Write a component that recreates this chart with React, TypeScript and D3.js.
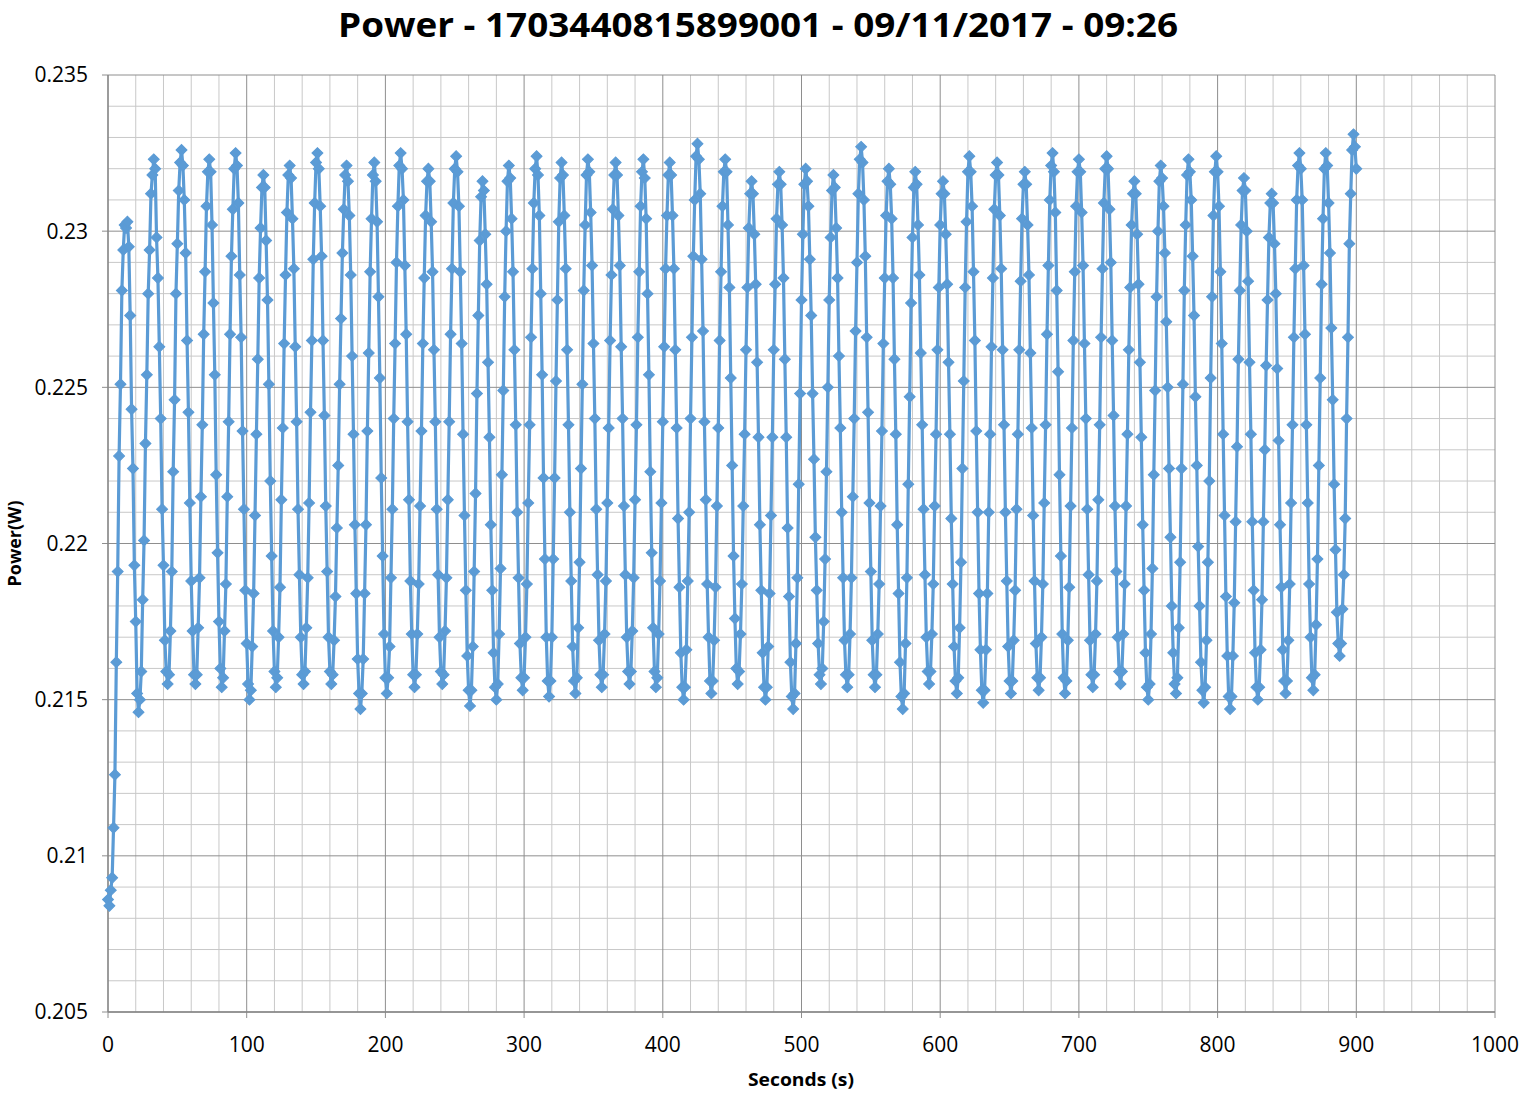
import React from "react";
import * as d3 from "d3";

const TITLE = "Power - 1703440815899001 - 09/11/2017 - 09:26";
const X_TITLE = "Seconds (s)";
const Y_TITLE = "Power(W)";

const xTicks = [0, 100, 200, 300, 400, 500, 600, 700, 800, 900, 1000];
const xTickLabels = ["0", "100", "200", "300", "400", "500", "600", "700", "800", "900", "1000"];
const yTicks = [0.205, 0.21, 0.215, 0.22, 0.225, 0.23, 0.235];
const yTickLabels = ["0.205", "0.21", "0.215", "0.22", "0.225", "0.23", "0.235"];

// sampling: one reading per second starting at 0 s
const startSecond = 0;
const stepSeconds = 1;

// power readings in milliwatts
const powerMilliwatts = [
  208.6, 208.4, 208.9, 209.3, 210.9, 212.6, 216.2, 219.1, 222.8, 225.1, 228.1, 229.4, 230.2, 230.1, 230.3,
  229.5, 227.3, 224.3, 222.4, 219.3, 217.5, 215.2, 214.6,
  215.0, 215.9, 218.2, 220.1, 223.2, 225.4, 228.0, 229.4, 231.2, 231.8, 232.3,
  232.0, 229.8, 228.5, 226.3, 224.0, 221.1, 219.3, 216.9, 215.9, 215.5,
  215.8, 217.2, 219.1, 222.3, 224.6, 228.0, 229.6, 231.3, 232.2, 232.6,
  232.1, 231.0, 229.3, 226.5, 224.2, 221.3, 218.8, 217.2, 215.8, 215.5,
  215.8, 217.3, 218.9, 221.5, 223.8, 226.7, 228.7, 230.8, 231.9, 232.3,
  231.9, 230.2, 227.7, 225.4, 222.2, 219.7, 217.5, 216.0, 215.4,
  215.7, 217.2, 218.7, 221.5, 223.9, 226.7, 229.2, 230.7, 232.0, 232.5,
  232.1, 230.9, 228.6, 226.6, 223.6, 221.1, 218.5, 216.8, 215.5, 215.0,
  215.3, 216.7, 218.4, 220.9, 223.5, 225.9, 228.5, 230.1, 231.4, 231.8,
  231.4, 229.7, 227.8, 225.1, 222.0, 219.6, 217.2, 215.9, 215.4,
  215.7, 217.0, 218.6, 221.4, 223.7, 226.4, 228.6, 230.6, 231.8, 232.1,
  231.7, 230.4, 228.8, 226.3, 223.9, 221.1, 219.0, 217.0, 215.8, 215.5,
  215.9, 217.3, 218.9, 221.3, 224.2, 226.5, 229.1, 230.9, 232.2, 232.5,
  232.0, 230.8, 229.2, 226.5, 224.1, 221.2, 219.1, 217.0, 215.9, 215.5,
  215.8, 216.9, 218.3, 220.5, 222.5, 225.1, 227.2, 229.3, 230.7, 231.8, 232.1,
  231.6, 230.5, 228.6, 226.0, 223.5, 220.6, 218.4, 216.3, 215.2, 214.7,
  215.2, 216.3, 218.4, 220.6, 223.6, 226.1, 228.7, 230.4, 231.8, 232.2,
  231.6, 230.3, 227.9, 225.3, 222.1, 219.6, 217.1, 215.7, 215.2,
  215.7, 216.7, 218.9, 221.1, 224.0, 226.4, 229.0, 230.8, 232.1, 232.5,
  232.0, 231.0, 228.9, 226.7, 223.9, 221.4, 218.8, 217.1, 215.8, 215.4,
  215.8, 217.1, 218.7, 221.2, 223.6, 226.4, 228.5, 230.5, 231.6, 232.0,
  231.6, 230.3, 228.7, 226.2, 223.9, 221.1, 219.0, 217.0, 215.9, 215.5,
  215.8, 217.2, 218.9, 221.4, 223.9, 226.7, 228.8, 230.9, 232.0, 232.4,
  231.9, 230.8, 228.7, 226.4, 223.5, 220.9, 218.5, 216.4, 215.3, 214.8,
  215.3, 216.7, 219.1, 221.6, 224.8, 227.3, 229.7, 231.1, 231.6,
  231.3, 229.9, 228.3, 225.8, 223.4, 220.6, 218.5, 216.5, 215.4, 215.0,
  215.5, 217.1, 219.2, 222.2, 224.9, 227.9, 230.0, 231.6, 232.1,
  231.7, 230.4, 228.7, 226.2, 223.8, 221.0, 218.9, 216.8, 215.7, 215.3,
  215.7, 217.0, 218.7, 221.3, 223.8, 226.6, 228.8, 230.9, 232.0, 232.4,
  231.8, 230.5, 228.0, 225.4, 222.1, 219.5, 217.0, 215.6, 215.1,
  215.6, 217.0, 219.5, 222.1, 225.2, 227.8, 230.3, 231.7, 232.2,
  231.8, 230.5, 228.8, 226.2, 223.8, 221.0, 218.8, 216.7, 215.6, 215.2,
  215.7, 217.3, 219.4, 222.4, 225.1, 228.1, 230.2, 231.8, 232.3,
  231.9, 230.6, 228.9, 226.4, 224.0, 221.1, 219.0, 216.9, 215.8, 215.4,
  215.8, 217.1, 218.8, 221.3, 223.7, 226.5, 228.6, 230.7, 231.8, 232.2,
  231.8, 230.5, 228.9, 226.3, 224.0, 221.2, 219.0, 217.0, 215.9, 215.5,
  215.9, 217.2, 218.9, 221.4, 223.8, 226.6, 228.7, 230.8, 231.9, 232.3,
  231.7, 230.4, 228.0, 225.4, 222.3, 219.7, 217.3, 215.9, 215.4,
  215.7, 217.1, 218.8, 221.3, 223.9, 226.3, 228.8, 230.5, 231.8, 232.2,
  231.8, 230.5, 228.8, 226.2, 223.7, 220.8, 218.6, 216.5, 215.4, 215.0,
  215.4, 216.6, 218.8, 221.0, 224.0, 226.6, 229.2, 231.0, 232.4, 232.8,
  232.3, 231.2, 229.1, 226.8, 223.9, 221.4, 218.7, 217.0, 215.6, 215.2,
  215.6, 216.9, 218.6, 221.2, 223.7, 226.5, 228.7, 230.8, 231.9, 232.3,
  231.9, 230.2, 228.2, 225.3, 222.5, 219.6, 217.6, 216.0, 215.5,
  215.9, 217.1, 218.7, 221.2, 223.5, 226.2, 228.2, 230.1, 231.2, 231.6,
  231.2, 229.9, 228.3, 225.8, 223.4, 220.6, 218.5, 216.5, 215.4, 215.0,
  215.4, 216.7, 218.4, 220.9, 223.4, 226.2, 228.3, 230.4, 231.5, 231.9,
  231.5, 230.2, 228.5, 225.9, 223.4, 220.5, 218.3, 216.2, 215.1, 214.7,
  215.2, 216.8, 218.9, 221.9, 224.8, 227.8, 229.9, 231.5, 232.0,
  231.6, 230.8, 229.1, 227.3, 224.8, 222.7, 220.2, 218.5, 216.8, 215.8, 215.5,
  216.0, 217.5, 219.5, 222.3, 225.0, 227.8, 229.8, 231.3, 231.8,
  231.4, 230.1, 228.5, 226.0, 223.7, 221.0, 218.9, 216.9, 215.8, 215.4,
  215.8, 217.1, 218.9, 221.5, 224.0, 226.8, 229.0, 231.2, 232.3, 232.7,
  232.2, 231.0, 229.2, 226.6, 224.2, 221.3, 219.1, 216.9, 215.8, 215.4,
  215.8, 217.1, 218.7, 221.2, 223.6, 226.4, 228.5, 230.5, 231.6, 232.0,
  231.5, 230.4, 228.5, 225.9, 223.5, 220.6, 218.4, 216.2, 215.1, 214.7,
  215.2, 216.8, 218.9, 221.9, 224.7, 227.7, 229.8, 231.4, 231.9,
  231.5, 230.2, 228.6, 226.1, 223.8, 221.1, 219.0, 217.0, 215.9, 215.5,
  215.9, 217.1, 218.7, 221.2, 223.5, 226.2, 228.2, 230.2, 231.2, 231.6,
  231.2, 229.9, 228.3, 225.8, 223.5, 220.8, 218.7, 216.7, 215.6, 215.2,
  215.7, 217.3, 219.4, 222.4, 225.2, 228.2, 230.3, 231.9, 232.4,
  231.9, 230.8, 228.7, 226.5, 223.6, 221.0, 218.4, 216.6, 215.3, 214.9,
  215.3, 216.6, 218.4, 221.0, 223.5, 226.3, 228.5, 230.7, 231.8, 232.2,
  231.8, 230.5, 228.8, 226.2, 223.8, 221.0, 218.8, 216.7, 215.6, 215.2,
  215.6, 216.9, 218.5, 221.1, 223.5, 226.2, 228.4, 230.4, 231.5, 231.9,
  231.5, 230.2, 228.6, 226.1, 223.7, 220.9, 218.8, 216.8, 215.7, 215.3,
  215.7, 217.0, 218.7, 221.3, 223.8, 226.7, 228.9, 231.0, 232.1, 232.5,
  231.9, 230.6, 228.1, 225.5, 222.2, 219.6, 217.1, 215.7, 215.2,
  215.6, 216.9, 218.6, 221.2, 223.7, 226.5, 228.7, 230.8, 231.9, 232.3,
  231.9, 230.6, 228.9, 226.4, 224.0, 221.1, 219.0, 216.9, 215.8, 215.4,
  215.8, 217.1, 218.8, 221.4, 223.8, 226.6, 228.8, 230.9, 232.0, 232.4,
  232.0, 230.7, 229.0, 226.5, 224.1, 221.2, 219.1, 217.0, 215.9, 215.5,
  215.9, 217.1, 218.7, 221.2, 223.5, 226.2, 228.2, 230.2, 231.2, 231.6,
  231.2, 229.9, 228.3, 225.8, 223.4, 220.6, 218.5, 216.5, 215.4, 215.0,
  215.5, 217.1, 219.2, 222.2, 224.9, 227.9, 230.0, 231.6, 232.1,
  231.7, 230.8, 229.3, 227.1, 225.0, 222.4, 220.2, 218.0, 216.5, 215.5, 215.2,
  215.7, 217.3, 219.4, 222.4, 225.1, 228.1, 230.2, 231.8, 232.3,
  231.9, 231.0, 229.2, 227.3, 224.7, 222.5, 219.9, 218.0, 216.2, 215.3, 214.9,
  215.4, 216.9, 219.4, 222.0, 225.3, 227.9, 230.5, 231.9, 232.4,
  231.9, 230.8, 228.7, 226.4, 223.5, 220.9, 218.3, 216.4, 215.1, 214.7,
  215.1, 216.4, 218.1, 220.7, 223.1, 225.9, 228.1, 230.2, 231.3, 231.7,
  231.3, 230.0, 228.4, 225.8, 223.5, 220.7, 218.5, 216.5, 215.4, 215.0,
  215.4, 216.6, 218.2, 220.7, 223.0, 225.7, 227.8, 229.8, 230.9, 231.2,
  230.9, 229.6, 228.0, 225.6, 223.3, 220.6, 218.6, 216.6, 215.6, 215.2,
  215.6, 216.9, 218.7, 221.3, 223.8, 226.6, 228.8, 231.0, 232.1, 232.5,
  232.0, 231.0, 228.9, 226.7, 223.8, 221.3, 218.7, 217.0, 215.7, 215.3,
  215.8, 217.4, 219.5, 222.5, 225.3, 228.3, 230.4, 232.0, 232.5,
  232.1, 230.9, 229.3, 226.9, 224.6, 221.9, 219.8, 217.8, 216.8, 216.4,
  216.8, 217.9, 219.0, 220.8, 224.0, 226.6, 229.6, 231.2, 232.6, 233.1,
  232.7, 232.0,
];

const W = 1523;
const H = 1095;
const plot = { left: 108, right: 1495, top: 75, bottom: 1012 };

const LINE_COLOR = "#5b9bd5";
const MINOR_GRID = "#c8c8c8";
const MAJOR_GRID = "#8e8e8e";
const FONT = "'Open Sans', 'Liberation Sans', sans-serif";

export default function App() {
  const x = d3.scaleLinear().domain([0, 1000]).range([plot.left, plot.right]);
  const y = d3.scaleLinear().domain([0.205, 0.235]).range([plot.bottom, plot.top]);

  const data = powerMilliwatts.map((mw, i) => ({
    t: startSecond + i * stepSeconds,
    p: mw / 1000,
  }));

  const line = d3
    .line<{ t: number; p: number }>()
    .x((d) => x(d.t))
    .y((d) => y(d.p));

  const marker = d3.symbol().type(d3.symbolSquare).size(60)() as string;

  const minorX = d3.range(0, 1001, 20);
  const minorY = d3.range(0, 31).map((i) => 0.205 + i * 0.001);
  const isMajorY = (v: number) => Math.abs(Math.round(v * 200) - v * 200) < 1e-6;

  return (
    <svg
      width={W}
      height={H}
      style={{ position: "absolute", left: 0, top: 0, background: "#fff" }}
      fontFamily={FONT}
    >
      <rect x={0} y={0} width={W} height={H} fill="#fff" />
      {/* minor grid */}
      {minorX
        .filter((v) => v % 100 !== 0)
        .map((v) => (
          <line key={"mx" + v} x1={x(v)} x2={x(v)} y1={plot.top} y2={plot.bottom} stroke={MINOR_GRID} strokeWidth={1} />
        ))}
      {minorY
        .filter((v) => !isMajorY(v))
        .map((v, i) => (
          <line key={"my" + i} x1={plot.left} x2={plot.right} y1={y(v)} y2={y(v)} stroke={MINOR_GRID} strokeWidth={1} />
        ))}
      {/* major grid */}
      {xTicks.map((v) => (
        <line key={"Mx" + v} x1={x(v)} x2={x(v)} y1={plot.top} y2={plot.bottom + 6} stroke={MAJOR_GRID} strokeWidth={1} />
      ))}
      {yTicks.map((v, i) => (
        <line key={"My" + i} x1={plot.left - 6} x2={plot.right} y1={y(v)} y2={y(v)} stroke={MAJOR_GRID} strokeWidth={1} />
      ))}
      {/* axes */}
      <line x1={plot.left} x2={plot.left} y1={plot.top} y2={plot.bottom} stroke="#868686" strokeWidth={1.3} />
      <line x1={plot.left} x2={plot.right} y1={plot.bottom} y2={plot.bottom} stroke="#868686" strokeWidth={1.3} />

      {/* series */}
      <path d={line(data) || ""} fill="none" stroke={LINE_COLOR} strokeWidth={3.2} strokeLinejoin="round" />
      {data.map((d, i) => (
        <path
          key={"m" + i}
          d={marker}
          transform={`translate(${x(d.t)},${y(d.p)}) rotate(45)`}
          fill={LINE_COLOR}
          stroke={LINE_COLOR}
          strokeWidth={1}
        />
      ))}

      {/* tick labels */}
      {yTicks.map((v, i) => (
        <text key={"yl" + i} x={plot.left - 20} y={y(v)} dy="0.35em" textAnchor="end" fontSize={21} fill="#000">
          {yTickLabels[i]}
        </text>
      ))}
      {xTicks.map((v, i) => (
        <text key={"xl" + i} x={x(v)} y={plot.bottom + 40} textAnchor="middle" fontSize={21} fill="#000">
          {xTickLabels[i]}
        </text>
      ))}

      {/* titles */}
      <text
        x={758}
        y={37}
        textAnchor="middle"
        fontSize={34}
        fontWeight="bold"
        textLength={840}
        lengthAdjust="spacingAndGlyphs"
        fill="#000"
      >
        {TITLE}
      </text>
      <text x={801} y={1086} textAnchor="middle" fontSize={18} fontWeight="bold" textLength={106} lengthAdjust="spacingAndGlyphs" fill="#000">
        {X_TITLE}
      </text>
      <text
        transform={`translate(21,${(plot.top + plot.bottom) / 2}) rotate(-90)`}
        textAnchor="middle"
        fontSize={18}
        fontWeight="bold"
        textLength={86}
        lengthAdjust="spacingAndGlyphs"
        fill="#000"
      >
        {Y_TITLE}
      </text>
    </svg>
  );
}
